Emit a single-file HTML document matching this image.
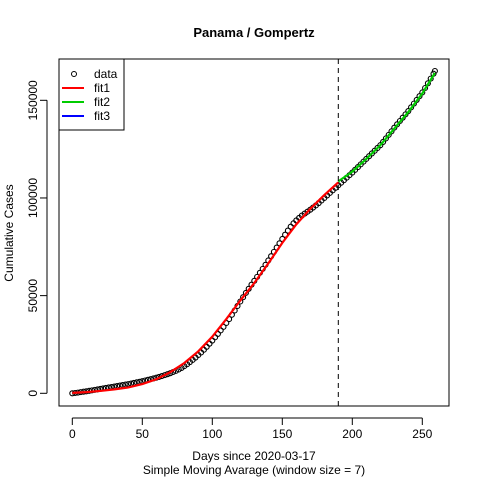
<!DOCTYPE html>
<html><head><meta charset="utf-8"><style>
body{margin:0;background:#fff}
svg{display:block;font-family:"Liberation Sans",Arial,sans-serif}
</style></head><body>
<svg id="chart" width="480" height="480" viewBox="0 0 480 480">
<rect width="480" height="480" fill="#fff"/>
<text x="254" y="37" text-anchor="middle" font-size="13" font-weight="bold">Panama / Gompertz</text>
<text x="254" y="460" text-anchor="middle" font-size="12">Days since 2020-03-17</text>
<text x="254" y="474" text-anchor="middle" font-size="12">Simple Moving Avarage (window size = 7)</text>
<text transform="translate(13,233) rotate(-90)" text-anchor="middle" font-size="12">Cumulative Cases</text>
<rect x="59" y="59" width="390" height="347" fill="none" stroke="#000"/>
<g id="axes"></g>
<g id="marks"></g>
<g>
<rect x="59" y="59" width="65" height="71" fill="#fff" stroke="#000"/>
<circle cx="74" cy="74" r="2.5" fill="none" stroke="#000"/>
<text x="94" y="78" font-size="12">data</text>
<line x1="62" x2="84" y1="88" y2="88" stroke="#f00" stroke-width="2"/>
<text x="94" y="92" font-size="12">fit1</text>
<line x1="62" x2="84" y1="102" y2="102" stroke="#0c0" stroke-width="2"/>
<text x="94" y="106" font-size="12">fit2</text>
<line x1="62" x2="84" y1="116" y2="116" stroke="#00f" stroke-width="2"/>
<text x="94" y="120" font-size="12">fit3</text>
</g>
</svg>
<script>
const dataDays=[0,2,4,6,8,10,12,14,16,18,20,22,24,26,28,30,32,34,36,38,40,42,44,46,48,50,52,54,56,58,60,62,64,66,68,70,72,74,76,78,80,82,84,86,88,90,92,94,96,98,100,102,104,106,108,110,112,114,116,118,120,122,124,126,128,130,132,134,136,138,140,142,144,146,148,150,152,154,156,158,160,162,164,166,168,170,172,174,176,178,180,182,184,186,188,190,192,194,196,198,200,202,204,206,208,210,212,214,216,218,220,222,224,226,228,230,232,234,236,238,240,242,244,246,248,250,252,254,256,258,259];
const dataCases=[0,150,350,600,800,1000,1250,1500,1750,2000,2250,2500,2750,3000,3200,3450,3700,3950,4200,4450,4700,5000,5300,5600,5900,6200,6550,6900,7250,7600,8000,8400,8850,9300,9800,10300,10900,11500,12200,13000,13900,14900,16000,17100,18300,19600,20900,22300,23800,25400,27000,28700,30400,32200,34000,36000,38000,40200,42400,44700,47000,49200,51400,53500,55600,57600,59600,61700,63700,65800,68000,70200,72400,74600,76800,79000,81200,83300,85300,87000,88500,89800,91000,92000,93000,94000,95100,96200,97400,98700,100000,101300,102600,103900,105200,106500,107800,109100,110400,111700,113000,114400,115800,117200,118600,120000,121400,122800,124200,125600,127000,128700,130500,132300,134100,136000,137700,139400,141100,142800,144500,146400,148300,150200,152100,154000,156300,158700,161100,163600,165000];
const fit1Days=[0,10,20,30,40,50,60,70,80,90,100,110,120,130,140,150,160,170,180,190];
const fit1Cases=[200,600,1200,2000,3000,4700,7200,10800,15500,21500,29000,38000,47500,56500,66500,77000,86500,94500,101500,108000];
const fit2Days=[190,200,210,220,230,240,250,259];
const fit2Cases=[108500,113500,120000,127000,135500,144000,153500,164000];
const xTicks=[0,50,100,150,200,250];
const yTicks=[0,50000,100000,150000];
const splitDay=190;

const NS="http://www.w3.org/2000/svg";
const xs=d=>72.3+d*1.4;
const ys=v=>393.3-v*293/150000;
const axes=document.getElementById('axes'),marks=document.getElementById('marks');
function mk(tag,attrs,parent){const e=document.createElementNS(NS,tag);for(const k in attrs)e.setAttribute(k,attrs[k]);parent.appendChild(e);return e;}
mk('line',{x1:xs(0),x2:xs(250),y1:418,y2:418,stroke:'#000'},axes);
xTicks.forEach(t=>{
  const l=mk('line',{x1:xs(t),x2:xs(t),y1:418,y2:425,stroke:'#000'},axes);
  
  
  const tx=mk('text',{x:xs(t),y:438,'text-anchor':'middle','font-size':12},axes);
  tx.textContent=t;
  
  
});
mk('line',{x1:47,x2:47,y1:ys(0),y2:ys(150000),stroke:'#000'},axes);
yTicks.forEach(t=>{
  const l=mk('line',{x1:40,x2:47,y1:ys(t),y2:ys(t),stroke:'#000'},axes);
  
  
  const tx=mk('text',{transform:`translate(37,${ys(t)}) rotate(-90)`,'text-anchor':'middle','font-size':12},axes);
  tx.textContent=t;
  
  
});
dataDays.forEach((d,i)=>{
  const c=mk('circle',{cx:xs(d),cy:ys(dataCases[i]),r:2.5,fill:'none',stroke:'#000','stroke-width':1.1},marks);
  
  
});
function line(days,vals,col,name){
  const p=mk('polyline',{points:days.map((d,i)=>xs(d)+','+ys(vals[i])).join(' '),fill:'none',stroke:col,'stroke-width':2.2},marks);
  
  
}
line(fit1Days,fit1Cases,'#f00','fit1-line');
line(fit2Days,fit2Cases,'#0c0','fit2-line');
const v=mk('line',{x1:xs(splitDay),x2:xs(splitDay),y1:59,y2:406,stroke:'#000','stroke-dasharray':'5,4'},marks);


</script>
</body></html>
